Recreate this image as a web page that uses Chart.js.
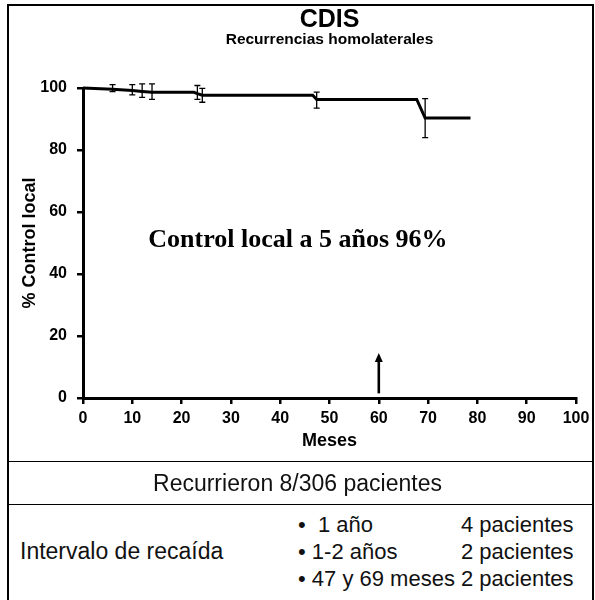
<!DOCTYPE html>
<html>
<head>
<meta charset="utf-8">
<title>CDIS – Recurrencias homolaterales</title>
<script src="https://cdn.jsdelivr.net/npm/chart.js@4/dist/chart.umd.min.js"></script>
<style>
  html, body { margin: 0; padding: 0; background: #fff; }
  #page { position: relative; width: 595px; height: 600px; overflow: hidden;
          font-family: "Liberation Sans", Arial, Helvetica, sans-serif; color: #111; }
  #plot { position: absolute; left: 0; top: 0; }
  .vline { position: absolute; width: 0; border-left: 2px solid #000; }
  .hline { position: absolute; height: 0; border-top: 1.5px solid #000; }
  .t { position: absolute; white-space: nowrap; font-size: 22px; line-height: 1; }
  .wide { font-size: 23px; }
</style>
</head>
<body>
<div id="page">
  <canvas id="plot" width="595" height="460"></canvas>

  <!-- outer frame and table rules -->
  <div class="hline" style="left:7px; top:4px; width:587px; border-top-width:2px;"></div>
  <div class="vline" style="left:7px; top:4px; height:597px;"></div>
  <div class="vline" style="left:592px; top:4px; height:597px;"></div>
  <div class="hline" style="left:7px; top:461px; width:587px;"></div>
  <div class="hline" style="left:7px; top:504px; width:587px;"></div>

  <div class="t wide" style="left:0; width:595px; text-align:center; top:472px;">Recurrieron 8/306 pacientes</div>
  <div class="t wide" style="left:20px; top:540px;">Intervalo de recaída</div>
  <div class="t" style="left:298px; top:514px;">•&nbsp; 1 año</div>
  <div class="t" style="left:298px; top:541px;">• 1-2 años</div>
  <div class="t" style="left:298px; top:568px;">• 47 y 69 meses</div>
  <div class="t" style="left:461px; top:514px;">4 pacientes</div>
  <div class="t" style="left:461px; top:541px;">2 pacientes</div>
  <div class="t" style="left:461px; top:568px;">2 pacientes</div>
</div>

<script>
// Kaplan–Meier local control curve (months vs % without local recurrence)
const months   = [0, 6, 10, 12, 14, 22.5, 23.2, 24.2, 46.6, 47.4, 67.7, 69.4, 78.6];
const control  = [100, 99.6, 99.2, 98.9, 98.6, 98.6, 98.2, 97.7, 97.7, 96.3, 96.3, 90.3, 90.3];

// Confidence intervals at the event times
const errMonths = [6, 10, 12, 14, 23.2, 24.2, 47.4, 69.4];
const errLow    = [98.8, 97.8, 97.0, 96.3, 96.3, 95.4, 93.5, 84.0];
const errHigh   = [101.1, 101.1, 101.3, 101.3, 100.8, 99.9, 98.7, 96.6];

// Five-year marker
const markerMonth = 60;
const markerFrom  = 1.5;
const markerTo    = 14.5;

const xTicks = [0, 10, 20, 30, 40, 50, 60, 70, 80, 90, 100];
const yTicks = [0, 20, 40, 60, 80, 100];

const titleText    = 'CDIS';
const subtitleText = 'Recurrencias homolaterales';
const noteText     = 'Control local a 5 años 96%';

const SANS = '"Liberation Sans", Arial, Helvetica, sans-serif';
const SERIF = '"Liberation Serif", "Times New Roman", Times, serif';

const points = months.map((m, i) => ({ x: m, y: control[i] }));

const errorBars = {
  id: 'errorBars',
  afterDatasetsDraw(chart) {
    const { ctx, scales: { x, y } } = chart;
    ctx.save();
    ctx.strokeStyle = '#000';
    ctx.lineWidth = 1.3;
    const cap = 3;
    errMonths.forEach((m, i) => {
      const px = x.getPixelForValue(m);
      const lo = y.getPixelForValue(errLow[i]);
      const hi = y.getPixelForValue(errHigh[i]);
      ctx.beginPath();
      ctx.moveTo(px, lo); ctx.lineTo(px, hi);
      ctx.moveTo(px - cap, lo); ctx.lineTo(px + cap, lo);
      ctx.moveTo(px - cap, hi); ctx.lineTo(px + cap, hi);
      ctx.stroke();
    });
    ctx.restore();
  }
};

const marker = {
  id: 'marker',
  afterDatasetsDraw(chart) {
    const { ctx, scales: { x, y } } = chart;
    const px = x.getPixelForValue(markerMonth);
    const base = y.getPixelForValue(markerFrom);
    const tip = y.getPixelForValue(markerTo);
    ctx.save();
    ctx.strokeStyle = '#000';
    ctx.fillStyle = '#000';
    ctx.lineWidth = 2.6;
    ctx.beginPath();
    ctx.moveTo(px, base); ctx.lineTo(px, tip + 7);
    ctx.stroke();
    ctx.beginPath();
    ctx.moveTo(px, tip);
    ctx.lineTo(px - 4, tip + 9);
    ctx.lineTo(px + 4, tip + 9);
    ctx.closePath();
    ctx.fill();
    ctx.restore();
  }
};

const headings = {
  id: 'headings',
  afterDraw(chart) {
    const { ctx, chartArea, scales: { x, y } } = chart;
    const cx = (chartArea.left + chartArea.right) / 2;
    ctx.save();
    ctx.fillStyle = '#000';
    ctx.textAlign = 'center';
    ctx.textBaseline = 'middle';
    ctx.font = 'bold 25px ' + SANS;
    ctx.fillText(titleText, cx, 20);
    ctx.font = 'bold 15.5px ' + SANS;
    ctx.fillText(subtitleText, cx, 40);
    ctx.font = 'bold 26px ' + SERIF;
    ctx.fillText(noteText, x.getPixelForValue(43.6), y.getPixelForValue(51));
    ctx.restore();
  }
};

new Chart(document.getElementById('plot'), {
  type: 'scatter',
  data: {
    datasets: [{
      data: points,
      showLine: true,
      borderColor: '#000',
      borderWidth: 3,
      pointRadius: 0,
      tension: 0,
      clip: false
    }]
  },
  options: {
    responsive: false,
    animation: false,
    events: [],
    layout: { padding: { left: 0, right: 19, top: 88, bottom: 0 } },
    plugins: { legend: { display: false }, tooltip: { enabled: false }, title: { display: false } },
    scales: {
      x: {
        type: 'linear', min: 0, max: 100,
        afterBuildTicks: (s) => { s.ticks = xTicks.map(v => ({ value: v })); },
        afterFit: (s) => { s.height = 62; },
        border: { display: true, color: '#000', width: 3 },
        grid: { display: true, drawOnChartArea: false, drawTicks: true, tickLength: 6, color: '#000', lineWidth: 2.5 },
        ticks: { color: '#000', padding: 5, font: { family: SANS, size: 16, weight: 'bold' }, maxRotation: 0 },
        title: { display: true, text: 'Meses', color: '#000', font: { family: SANS, size: 18, weight: 'bold' }, padding: { top: 0, bottom: 8 } }
      },
      y: {
        type: 'linear', min: 0, max: 100,
        afterBuildTicks: (s) => { s.ticks = yTicks.map(v => ({ value: v })); },
        afterFit: (s) => { s.width = 83; },
        border: { display: true, color: '#000', width: 3 },
        grid: { display: true, drawOnChartArea: false, drawTicks: true, tickLength: 6, color: '#000', lineWidth: 2.5 },
        ticks: { color: '#000', padding: 10, font: { family: SANS, size: 16, weight: 'bold' } },
        title: { display: true, text: '% Control local', color: '#000', font: { family: SANS, size: 18, weight: 'bold' }, padding: { top: 19, bottom: 0 } }
      }
    }
  },
  plugins: [errorBars, marker, headings]
});
</script>
</body>
</html>
